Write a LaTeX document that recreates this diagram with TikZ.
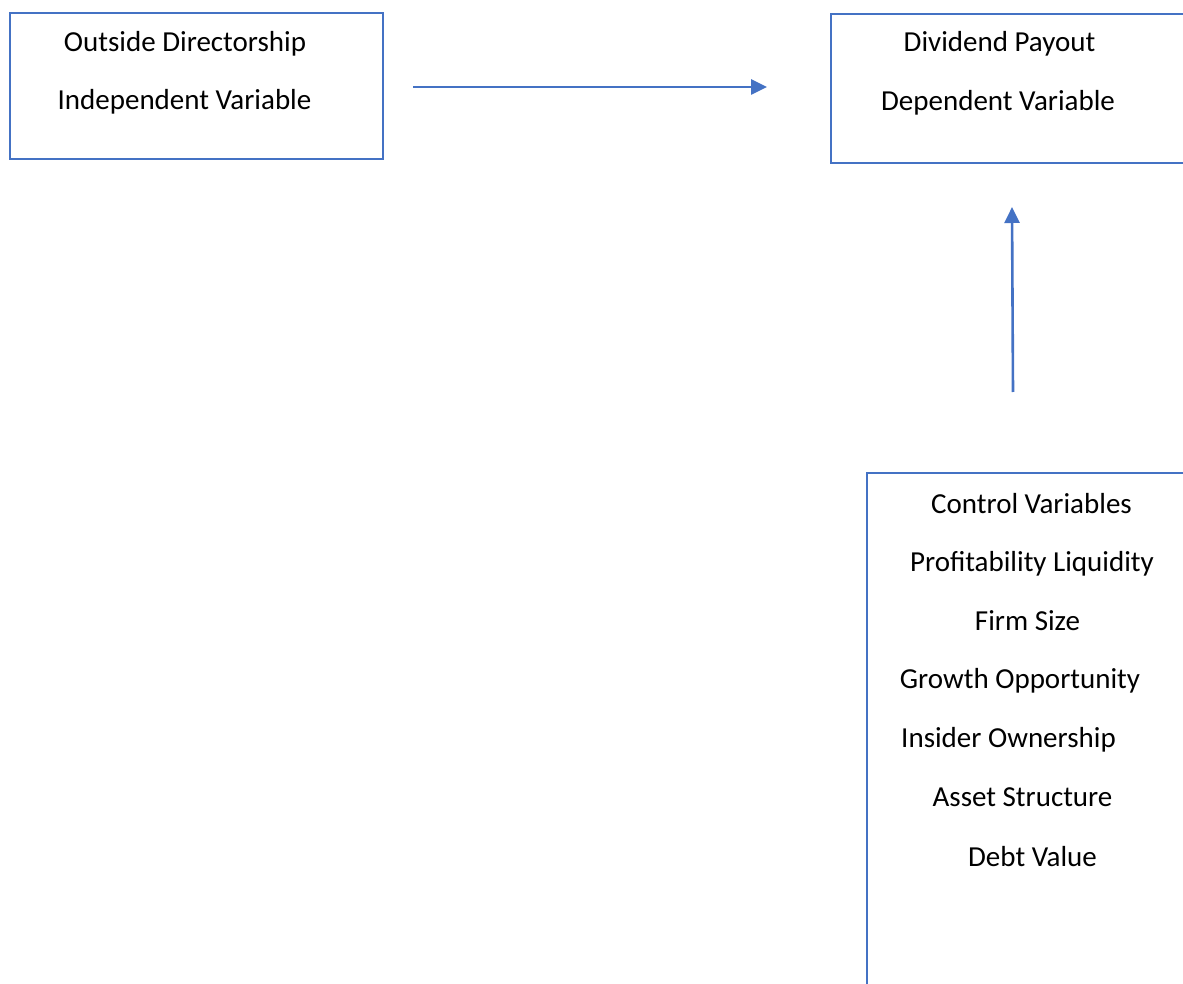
\documentclass[tikz,border=0pt]{standalone}
\usepackage{fontspec}
\setmainfont{Carlito}
\usepackage{xcolor}
\usetikzlibrary{arrows.meta,positioning}
\definecolor{boxblue}{HTML}{4472C4}
\tikzset{
    varbox/.style={draw=boxblue, line width=2.4pt, inner sep=0pt},
    vartext/.style={anchor=base, inner sep=0pt, font=\fontsize{29}{35}\selectfont},
    flow/.style={draw=boxblue, line width=2.6pt, -{Triangle[length=16pt,width=15pt]}}
}

\begin{document}
\begin{tikzpicture}[x=1pt,y=-1pt]
    \useasboundingbox (0,0) rectangle (1183,984);
    \clip (0,0) rectangle (1183,984);

    % Boxes
    \node[varbox, minimum width=373pt, minimum height=146pt] (indep) at (196.5,86) {};
    \node[varbox, minimum width=409pt, minimum height=149pt] (dep) at (1035.5,88.5) {};
    \node[varbox, minimum width=373pt, minimum height=567pt] (ctrl) at (1053.5,756.5) {};

    % Labels
    \node[vartext] (indep1) at (185,52) {Outside Directorship};
    \node[vartext] (indep2) at (184.5,110) {Independent Variable};
    \node[vartext] (dep1) at (999.5,52) {Dividend Payout};
    \node[vartext] (dep2) at (998,111) {Dependent Variable};
    \node[vartext] (ctrl1) at (1031.5,513) {Control Variables};
    \node[vartext] (ctrl2) at (1032,571) {Profitability Liquidity};
    \node[vartext] (ctrl3) at (1027.5,630) {Firm Size};
    \node[vartext] (ctrl4) at (1020,688) {Growth Opportunity};
    \node[vartext] (ctrl5) at (1008.5,747) {Insider Ownership};
    \node[vartext] (ctrl6) at (1022.5,806) {Asset Structure};
    \node[vartext] (ctrl7) at (1032.5,866) {Debt Value};

    % Arrows
    \coordinate (hfrom) at (413,87);
    \coordinate (hto) at (767,87);
    \coordinate (vfrom) at (1013,392);
    \coordinate (vto) at (1012,207);
    \draw[flow] (hfrom) -- (hto);
    \draw[flow] (vfrom) -- (vto);
\end{tikzpicture}
\end{document}
